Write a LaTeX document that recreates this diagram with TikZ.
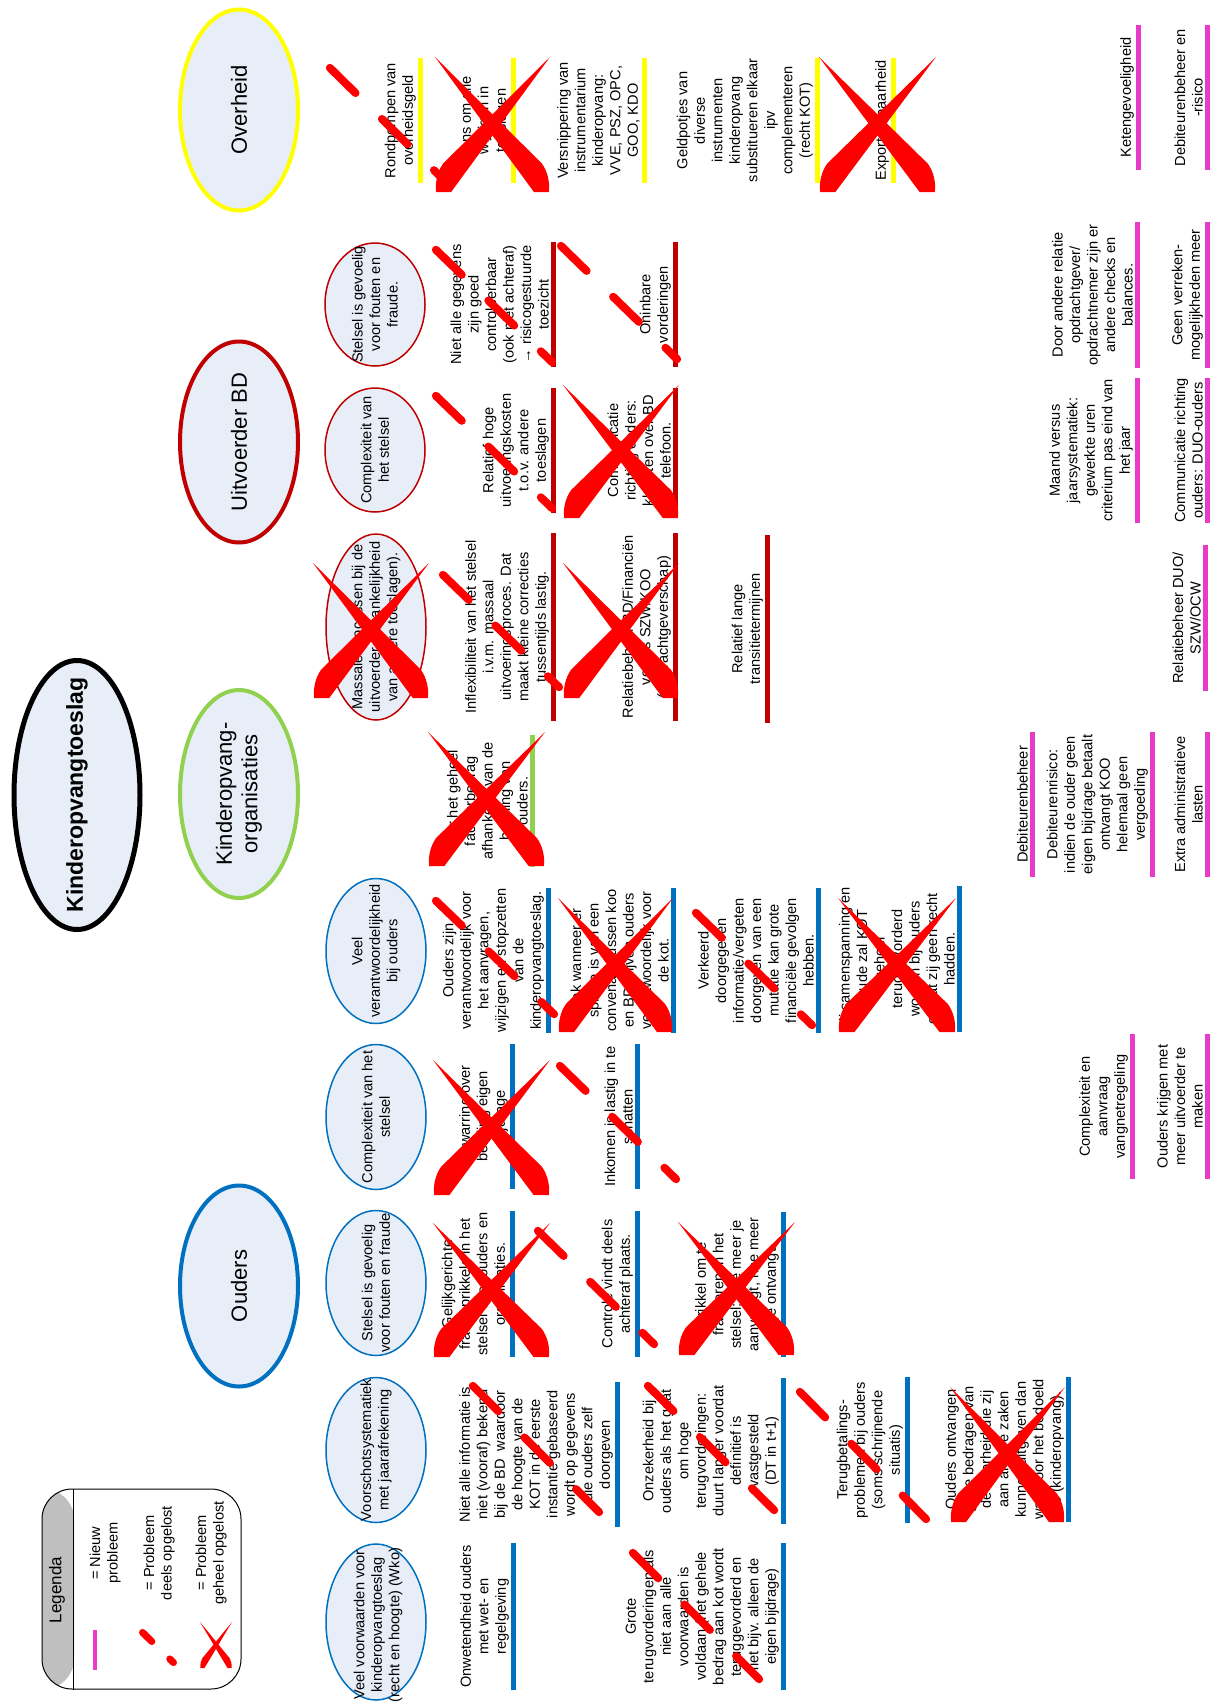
\documentclass[tikz,border=0pt]{standalone}
\usepackage{fontspec}
\setmainfont{Liberation Sans}
\usepackage{tikz}
\usetikzlibrary{shapes.geometric}
\definecolor{ouderblue}{HTML}{0070C0}
\definecolor{kogreen}{HTML}{92D050}
\definecolor{bdred}{HTML}{C00000}
\definecolor{ovyellow}{HTML}{FFFF00}
\definecolor{newpink}{HTML}{E83BC8}
\definecolor{ellfill}{HTML}{E8EEF7}
\definecolor{markred}{HTML}{FF0000}
\definecolor{legendgray}{HTML}{BFBFBF}

\begin{document}
\begin{tikzpicture}
  [x=1pt,y=-1pt,
   every node/.style={font=\fontsize{14.6}{17.5}\selectfont},
   prob/.style={rotate=90, anchor=south, align=center, inner sep=0pt},
   lbl/.style={rotate=90, align=center, inner sep=0pt},
   catlbl/.style={lbl, font=\fontsize{22}{25.5}\selectfont},
   topic/.style={ellipse, draw=#1, line width=4pt, fill=ellfill, minimum width=118pt, inner sep=0pt},
   subtopic/.style={ellipse, draw=#1, line width=1.5pt, fill=ellfill, minimum width=100pt, inner sep=0pt},
   bar/.style={line width=5pt},
   part/.style={draw=markred, line width=8pt, line cap=round, dash pattern=on 36pt off 37pt, shorten <=4pt, shorten >=4pt},
   solved/.pic={
     \fill[markred] (0,0) -- (0.93,0.79) .. controls (0.98,0.85) and (1,0.93) .. (0.99,1) -- (0.86,1) -- cycle;
     \fill[markred] (1,0) -- (0.07,0.79) .. controls (0.02,0.85) and (0,0.93) .. (0.01,1) -- (0.14,1) -- cycle;
   }]
  \path[use as bounding box, fill=white] (0,0) rectangle (1219,1705);

  % hoofdonderwerp en actoren
  \node [ellipse, draw=black, line width=5pt, fill=ellfill, minimum width=126pt, minimum height=269pt, inner sep=0pt] (kot) at (77,795) {};
  \node [lbl, font=\fontsize{23}{27}\selectfont\bfseries] (kot-t) at (kot) {Kinderopvangtoeslag};

  \node [topic=ovyellow, minimum height=201pt] (ov) at (239,110) {};
  \node [topic=bdred, minimum height=201pt] (bd) at (239,442) {};
  \node [topic=kogreen, minimum height=208pt] (ko) at (239,794) {};
  \node [topic=ouderblue, minimum height=201pt] (ou) at (239,1286) {};
  \node [catlbl] (ov-t) at (ov) {Overheid};
  \node [catlbl] (bd-t) at (bd) {Uitvoerder BD};
  \node [catlbl] (ko-t) at (ko) {Kinderopvang-\\organisaties};
  \node [catlbl] (ou-t) at (ou) {Ouders};

  \node [subtopic=ouderblue, minimum height=156pt] (ous1) at (376,1622) {};
  \node [subtopic=ouderblue, minimum height=145pt] (ous2) at (376,1450) {};
  \node [subtopic=ouderblue, minimum height=145pt] (ous3) at (376,1283) {};
  \node [subtopic=ouderblue, minimum height=145pt] (ous4) at (376,1117) {};
  \node [subtopic=ouderblue, minimum height=145pt] (ous5) at (376,951) {};
  \node [subtopic=bdred, minimum height=186pt] (bds1) at (376,627) {};
  \node [subtopic=bdred, minimum height=124pt] (bds2) at (375,450) {};
  \node [subtopic=bdred, minimum height=123pt] (bds3) at (375,304.5) {};
  \node [lbl] (ous1-t) at (378,1625) {Veel voorwaarden voor\\kinderopvangtoeslag\\(recht en hoogte) (Wko)};
  \node [lbl] (ous2-t) at (ous2) {Voorschotsystematiek\\met jaarafrekening};
  \node [lbl] (ous3-t) at (ous3) {Stelsel is gevoelig\\voor fouten en fraude};
  \node [lbl] (ous4-t) at (ous4) {Complexiteit van het\\stelsel};
  \node [lbl] (ous5-t) at (ous5) {Veel\\verantwoordelijkheid\\bij ouders};
  \node [lbl] (bds1-t) at (bds1) {Massale processen bij de\\uitvoerder (afhankelijkheid\\van andere toeslagen).};
  \node [lbl] (bds2-t) at (bds2) {Complexiteit van\\het stelsel};
  \node [lbl] (bds3-t) at (bds3) {Stelsel is gevoelig\\voor fouten en\\fraude.};

  % overheid
  \node [prob] (ov1) at (416,120.5) {Rondpompen van\\overheidsgeld};
  \node [prob] (ov2) at (509,120.5) {Wens om alle\\wijzigen in\\toeslagen};
  \node [prob] (ov3) at (640,120.5) {Versnippering van\\instrumentarium\\kinderopvang:\\VVE, PSZ, OPC,\\GOO, KDO};
  \node [prob] (ov4) at (813,120.5) {Geldpotjes van\\diverse\\instrumenten\\kinderopvang\\substitueren elkaar\\ipv\\complementeren\\(recht KOT)};
  \node [prob] (ov5) at (889,120.5) {Exporteerbaarheid};
  \draw [bar, ovyellow] (420,58) -- (420,183);
  \draw [bar, ovyellow] (513,58) -- (513,183);
  \draw [bar, ovyellow] (644,58) -- (644,183);
  \draw [bar, ovyellow] (817,58) -- (817,183);
  \draw [bar, ovyellow] (893,58) -- (893,183);

  % uitvoerder
  \node [prob] (bd1) at (549,304.5) {Niet alle gegevens\\zijn goed\\controleerbaar\\(ook niet achteraf)\\→ risicogestuurde\\toezicht};
  \node [prob] (bd2) at (671,304.5) {Oninbare\\vorderingen};
  \node [prob] (bd3) at (549,450.5) {Relatief hoge\\uitvoeringskosten\\t.o.v. andere\\toeslagen};
  \node [prob] (bd4) at (671,450.5) {Communicatie\\richting ouders:\\klachten over BD\\telefoon.};
  \node [prob] (bd5) at (549,627) {Inflexibiliteit van het stelsel\\i.v.m. massaal\\uitvoeringsproces. Dat\\maakt kleine correcties\\tussentijds lastig.};
  \node [prob] (bd6) at (671,627) {Relatiebeheer BD/Financiën\\versus SZW/KOO\\(opdrachtgeverschap)};
  \node [prob] (bd7) at (763,629) {Relatief lange\\transitietermijnen};
  \draw [bar, bdred] (553,242) -- (553,367);
  \draw [bar, bdred] (675,242) -- (675,367);
  \draw [bar, bdred] (553,388) -- (553,513);
  \draw [bar, bdred] (675,388) -- (675,513);
  \draw [bar, bdred] (553,533) -- (553,721);
  \draw [bar, bdred] (675,533) -- (675,721);
  \draw [bar, bdred] (767,535) -- (767,723);

  % kinderopvangorganisaties
  \node [prob] (ko1) at (528,801) {Voor het geheel\\factuurbedrag\\afhankelijk van de\\betaling van\\ouders.};
  \draw [bar, kogreen] (532,735) -- (532,867);

  % ouders
  \node [prob] (ou1) at (544,960.5) {Ouders zijn\\verantwoordelijk voor\\het aanvragen,\\wijzigen en stopzetten\\van de\\kinderopvangtoeslag.};
  \node [prob] (ou2) at (669,960.5) {Ook wanneer er\\sprake is van een\\convenant tussen koo\\en BD blijven ouders\\verantwoordelijk voor\\de kot.};
  \node [prob] (ou3) at (814,960.5) {Verkeerd\\doorgegeven\\informatie/vergeten\\doorgeven van een\\mutatie kan grote\\financiële gevolgen\\hebben.};
  \node [prob] (ou4) at (955,959) {Bij samenspanning en\\fraude zal KOT\\geheel\\teruggevorderd\\worden bij ouders\\omdat zij geen recht\\hadden.};
  \node [prob] (ou5) at (508,1116.5) {Verwarring over\\betaling eigen\\bijdrage};
  \node [prob] (ou6) at (633,1116.5) {Inkomen is lastig in te\\schatten};
  \node [prob] (ou7) at (508,1284) {Gelijkgerichte\\fraudeprikkels in het\\stelsel voor ouders en\\organisaties.};
  \node [prob] (ou8) at (633,1284) {Controle vindt deels\\achteraf plaats.};
  \node [prob] (ou9) at (779,1284.5) {Prikkel om te\\frauderen in het\\stelsel: hoe meer je\\aanvraagt, hoe meer\\je ontvangt};
  \node [prob] (ou10) at (613,1454.5) {Niet alle informatie is\\niet (vooraf) bekend\\bij de BD \ waardoor\\de hoogte van de\\KOT in de eerste\\instantie gebaseerd\\wordt op gegevens\\die ouders zelf\\doorgeven};
  \node [prob] (ou11) at (779,1451) {Onzekerheid bij\\ouders als het gaat\\om hoge\\terugvorderingen:\\duurt langer voordat\\definitief is\\vastgesteld\\(DT in t+1)};
  \node [prob] (ou12) at (903,1450) {Terugbetalings-\\problemen bij ouders\\(soms schrijnende\\situatis)};
  \node [prob] (ou13) at (1064,1449.5) {Ouders ontvangen\\grote bedragen van\\de overheid die zij\\aan andere zaken\\kunnen uitgeven dan\\waarvoor het bedoeld\\is (kinderopvang).};
  \node [prob] (ou14) at (509,1616.5) {Onwetendheid ouders\\met wet- en\\regelgeving};
  \node [prob] (ou15) at (779,1616.5) {Grote\\terugvorderingen als\\niet aan alle\\voorwaarden is\\voldaan (het gehele\\bedrag aan kot wordt\\teruggevorderd en\\niet bijv. alleen de\\eigen bijdrage)};
  \draw [bar, ouderblue] (548,888) -- (548,1033);
  \draw [bar, ouderblue] (673,888) -- (673,1033);
  \draw [bar, ouderblue] (818,888) -- (818,1033);
  \draw [bar, ouderblue] (959,886) -- (959,1032);
  \draw [bar, ouderblue] (512,1044) -- (512,1189);
  \draw [bar, ouderblue] (637,1044) -- (637,1189);
  \draw [bar, ouderblue] (512,1211) -- (512,1357);
  \draw [bar, ouderblue] (637,1211) -- (637,1357);
  \draw [bar, ouderblue] (783,1212) -- (783,1357);
  \draw [bar, ouderblue] (617,1382) -- (617,1527);
  \draw [bar, ouderblue] (783,1378) -- (783,1524);
  \draw [bar, ouderblue] (907,1377) -- (907,1523);
  \draw [bar, ouderblue] (1068,1377) -- (1068,1522);
  \draw [bar, ouderblue] (513,1543) -- (513,1690);
  \draw [bar, ouderblue] (783,1543) -- (783,1690);

  % nieuwe problemen
  \node [prob] (nw1) at (1134,97.5) {Ketengevoeligheid};
  \node [prob] (nw2) at (1203,97.5) {Debiteurenbeheer en\\-risico};
  \node [prob] (nw3) at (1133,295) {Door andere relatie\\opdrachtgever/\\opdrachtnemer zijn er\\andere checks en\\balances.};
  \node [prob] (nw4) at (1203,295) {Geen verreken-\\mogelijkheden meer};
  \node [prob] (nw5) at (1133,450.5) {Maand versus\\jaarsystematiek:\\gewerkte uren\\criterium pas eind van\\het jaar};
  \node [prob] (nw6) at (1203,450.5) {Communicatie richting\\ouders: DUO-ouders};
  \node [prob] (nw7) at (1201,618) {Relatiebeheer DUO/\\SZW/OCW};
  \node [prob] (nw8) at (1028,804.5) {Debiteurenbeheer};
  \node [prob] (nw9) at (1148,804.5) {Debiteurenrisico:\\indien de ouder geen\\eigen bijdrage betaalt\\ontvangt KOO\\helemaal geen\\vergoeding};
  \node [prob] (nw10) at (1203,804.5) {Extra administratieve\\lasten};
  \node [prob] (nw11) at (1128,1106.5) {Complexiteit en\\aanvraag\\vangnetregeling};
  \node [prob] (nw12) at (1203,1106.5) {Ouders krijgen met\\meer uitvoerder te\\maken};
  \draw [bar, newpink] (1138,25) -- (1138,170);
  \draw [bar, newpink] (1207,25) -- (1207,170);
  \draw [bar, newpink] (1137,222) -- (1137,368);
  \draw [bar, newpink] (1207,222) -- (1207,368);
  \draw [bar, newpink] (1137,378) -- (1137,523);
  \draw [bar, newpink] (1207,378) -- (1207,523);
  \draw [bar, newpink] (1205,545) -- (1205,691);
  \draw [bar, newpink] (1032,732) -- (1032,877);
  \draw [bar, newpink] (1152,732) -- (1152,877);
  \draw [bar, newpink] (1207,732) -- (1207,877);
  \draw [bar, newpink] (1132,1034) -- (1132,1179);
  \draw [bar, newpink] (1207,1034) -- (1207,1179);

  % deels opgelost
  \draw [part] (327,65) -- (447,183);
  \draw [part] (433,247) -- (555,365);
  \draw [part] (558,243) -- (680,362);
  \draw [part] (433,393) -- (555,511);
  \draw [part] (440,572) -- (562,690);
  \draw [part] (433,898) -- (557,1017);
  \draw [part] (693,910) -- (815,1028);
  \draw [part] (557,1063) -- (679,1182);
  \draw [part] (535,1228) -- (657,1347);
  \draw [part] (470,1383) -- (602,1515);
  \draw [part] (645,1383) -- (777,1513);
  \draw [part] (797,1389) -- (929,1522);
  \draw [part] (630,1550) -- (762,1682);

  % geheel opgelost
  \pic [xscale=117, yscale=134] at (433,1223) {solved};
  \pic [xscale=117, yscale=135] at (433,1060) {solved};
  \pic [xscale=117, yscale=133] at (678,1222) {solved};
  \pic [xscale=115, yscale=135] at (950,1387) {solved};
  \pic [xscale=115, yscale=134] at (558,898) {solved};
  \pic [xscale=118, yscale=134] at (838,898) {solved};
  \pic [xscale=117, yscale=134] at (428,732) {solved};
  \pic [xscale=116, yscale=135] at (313,563) {solved};
  \pic [xscale=116, yscale=135] at (563,563) {solved};
  \pic [xscale=116, yscale=133] at (563,385) {solved};
  \pic [xscale=115, yscale=135] at (435,57) {solved};
  \pic [xscale=117, yscale=135] at (819,57) {solved};

  % legenda
  \node [draw, line width=1pt, rounded corners=30pt, minimum width=199pt, minimum height=200pt, inner sep=0pt,
         path picture={\fill[legendgray] (path picture bounding box.north west) rectangle ([xshift=32pt]path picture bounding box.south west);}] (legend) at (141.5,1589) {};
  \draw [line width=1pt] ([xshift=32pt]legend.north west) -- ([xshift=32pt]legend.south west);
  \node [lbl, font=\fontsize{17}{20}\selectfont] (leg-t) at (57,1590) {Legenda};
  \node [lbl] (leg1) at (105,1553) {= Nieuw\\probleem};
  \node [lbl] (leg2) at (159,1553) {= Probleem\\deels opgelost};
  \node [lbl] (leg3) at (211,1553) {= Probleem\\geheel opgelost};
  \draw [bar, newpink, line width=4pt] (95,1630) -- (95,1670);
  \draw [part, line width=7pt, dash pattern=on 13pt off 25pt, shorten <=3.5pt, shorten >=3.5pt] (140,1630) -- (176,1665);
  \pic [xscale=32, yscale=46] at (200,1622) {solved};
\end{tikzpicture}
\end{document}
